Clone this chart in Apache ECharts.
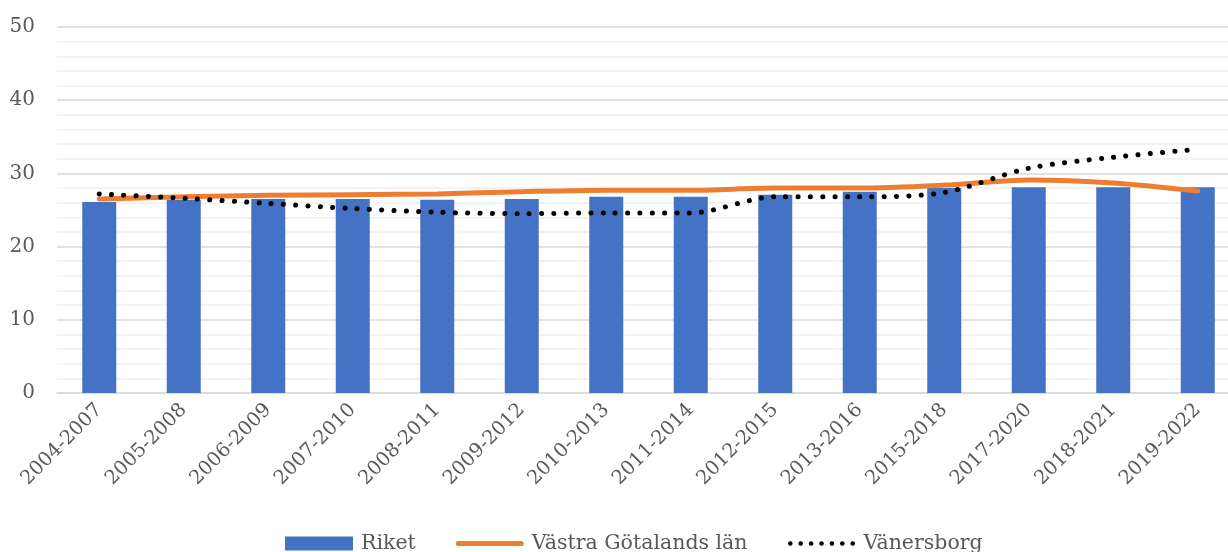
<!DOCTYPE html>
<html>
<head>
<meta charset="utf-8">
<script src="https://cdn.jsdelivr.net/npm/echarts@6/dist/echarts.min.js"></script>
<style>
  html, body { margin: 0; padding: 0; background: #fff; }
  #chart { width: 1228px; height: 552px; }
</style>
</head>
<body>
<div id="chart"></div>
<script>
// Period labels along the x axis
const periods = ['2004-2007', '2005-2008', '2006-2009', '2007-2010', '2008-2011', '2009-2012',
  '2010-2013', '2011-2014', '2012-2015', '2013-2016', '2015-2018', '2017-2020', '2018-2021', '2019-2022'];

// Series values
const riket = [26.1, 26.4, 26.5, 26.5, 26.4, 26.5, 26.8, 26.8, 27.1, 27.5, 28.0, 28.1, 28.1, 28.1];
const vastraGotaland = [26.5, 26.8, 27.0, 27.1, 27.2, 27.5, 27.7, 27.7, 28.0, 28.0, 28.4, 29.1, 28.7, 27.6];
const vanersborg = [27.2, 26.6, 25.9, 25.2, 24.7, 24.5, 24.6, 24.6, 26.8, 26.8, 27.4, 30.7, 32.2, 33.3];

// Y axis ticks
const yTicks = { min: 0, max: 50, interval: 10 };

const serif = '"DejaVu Serif", "Liberation Serif", serif';
const noMarker = { color: 'rgba(0,0,0,0)', borderWidth: 0, borderColor: 'rgba(0,0,0,0)' };

// Legend icons drawn as paths inside a 68x14 box (tiny corner specks fix the box size)
const ICON_W = 68, ICON_H = 14;
const boxCorners = `M0,0L0.01,0L0,0.01Z M${ICON_W},${ICON_H}L${ICON_W - 0.01},${ICON_H}L${ICON_W},${ICON_H - 0.01}Z `;
const solidIcon = 'path://' + boxCorners +
  `M2.5,4.5L${ICON_W - 2.5},4.5A2.5,2.5 0 0 1 ${ICON_W - 2.5},9.5L2.5,9.5A2.5,2.5 0 0 1 2.5,4.5Z`;
function dotsIcon(count, r) {
  let d = boxCorners;
  const step = (ICON_W - 2 * r - 1) / (count - 1);
  for (let i = 0; i < count; i++) {
    const cx = r + 0.5 + i * step;
    d += `M${cx - r},7A${r},${r} 0 1 0 ${cx + r},7A${r},${r} 0 1 0 ${cx - r},7Z `;
  }
  return 'path://' + d;
}

const chart = echarts.init(document.getElementById('chart'), null, { renderer: 'canvas' });

chart.setOption({
  animation: false,
  backgroundColor: '#ffffff',
  grid: {
    left: 57, top: 27, width: 1183, height: 366,
    containLabel: false,
    outerBoundsMode: 'none'
  },
  legend: {
    left: 280,
    top: 528,
    itemWidth: ICON_W,
    itemHeight: ICON_H,
    itemGap: 40,
    textStyle: { fontFamily: serif, fontSize: 20.5, color: '#595959', padding: [0, 0, 0, 3] },
    data: [
      { name: 'Riket', icon: 'rect', itemStyle: { color: '#4472C4' } },
      { name: 'Västra Götalands län', icon: solidIcon, itemStyle: { color: '#ED7D31' } },
      { name: 'Vänersborg', icon: dotsIcon(7, 2.3), itemStyle: { color: '#000000' } }
    ]
  },
  xAxis: {
    type: 'category',
    data: periods,
    axisLine: { show: true, lineStyle: { color: '#d9d9d9', width: 1.5 } },
    axisTick: { show: false },
    axisLabel: {
      rotate: 45,
      margin: 14,
      interval: 0,
      fontFamily: serif,
      fontSize: 19.5,
      color: '#595959',
      padding: [22, 0, 0, 0]
    }
  },
  yAxis: {
    type: 'value',
    min: yTicks.min,
    max: yTicks.max,
    interval: yTicks.interval,
    axisLine: { show: false },
    axisTick: { show: false },
    axisLabel: { margin: 22, fontFamily: serif, fontSize: 20, color: '#595959' },
    splitLine: { show: true, lineStyle: { color: '#d9d9d9', width: 1.5 } },
    minorTick: { show: false, splitNumber: 5 },
    minorSplitLine: { show: true, lineStyle: { color: '#efefef', width: 1.5 } }
  },
  series: [
    {
      name: 'Riket',
      type: 'bar',
      data: riket,
      barWidth: 34,
      itemStyle: { color: '#4472C4' }
    },
    {
      name: 'Västra Götalands län',
      type: 'line',
      data: vastraGotaland,
      smooth: 0.3,
      showSymbol: false,
      lineStyle: { color: '#ED7D31', width: 5, cap: 'round' },
      itemStyle: noMarker
    },
    {
      name: 'Vänersborg',
      type: 'line',
      data: vanersborg,
      smooth: 0.3,
      showSymbol: false,
      lineStyle: { color: '#000000', width: 5, type: [0.1, 12.2], cap: 'round' },
      itemStyle: noMarker
    }
  ]
});
</script>
</body>
</html>
